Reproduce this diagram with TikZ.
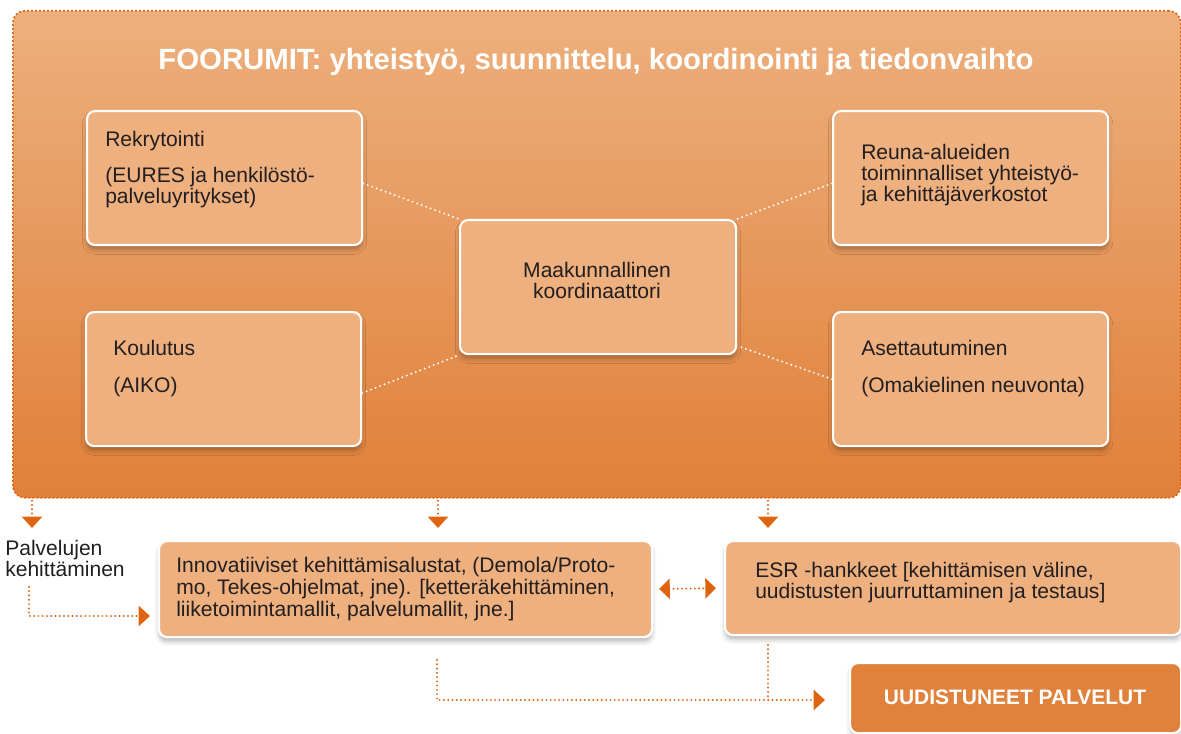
\documentclass[tikz,border=0pt]{standalone}
\usepackage{fontspec}
\setmainfont{Liberation Sans}
\usetikzlibrary{arrows.meta,shadows,shadows.blur,calc}
\definecolor{ink}{HTML}{231F20}
\definecolor{boxfill}{HTML}{EEB07E}
\definecolor{ortop}{HTML}{EDB07D}
\definecolor{orbot}{HTML}{E0803A}
\definecolor{arrowor}{HTML}{DF6410}
\definecolor{uudfill}{HTML}{E0823B}
\tikzset{
  forumbox/.style={draw=arrowor, line width=1.3pt, dash pattern=on 1.4pt off 1.6pt,
    top color=ortop, bottom color=orbot, rounded corners=9pt, anchor=north west, inner sep=0pt},
  lightbox/.style={draw=white, line width=1.6pt, fill=boxfill, rounded corners=6pt,
    anchor=north west, inner sep=0pt,
    blur shadow={shadow xshift=0pt, shadow yshift=-3.5pt, shadow blur radius=3.5pt, shadow opacity=28}},
  darkbox/.style={draw=white, line width=1.6pt, fill=uudfill, rounded corners=6pt,
    anchor=north west, inner sep=0pt,
    blur shadow={shadow xshift=0pt, shadow yshift=-3.5pt, shadow blur radius=3.5pt, shadow opacity=22}},
  txt/.style={anchor=base west, inner sep=0pt, text=ink, align=left,
    font=\fontsize{15.8}{15.75}\selectfont},
  wdots/.style={draw=white, line width=1.6pt, dash pattern=on 0pt off 3.6pt, line cap=round},
  odots/.style={draw=arrowor, line width=1.6pt, dash pattern=on 0pt off 3.2pt, line cap=round},
  tip/.style={-{Triangle[width=15pt,length=8.5pt]}},
  tips/.style={{Triangle[width=15pt,length=8pt]}-{Triangle[width=15pt,length=8pt]}},
}
\begin{document}
\begin{tikzpicture}[x=0.75pt,y=-0.75pt]
\useasboundingbox (0,0) rectangle (1181,734);

% forum box
\node[forumbox, minimum width=1168*0.75pt, minimum height=487*0.75pt] (forum) at (12,10) {};
\node[anchor=base, inner sep=0pt, text=white, font=\fontsize{22}{22}\selectfont\bfseries] (title) at (596,70)
  {FOORUMIT: yhteistyö, suunnittelu, koordinointi ja tiedonvaihto};

% inner boxes
\node[lightbox, minimum width=275*0.75pt, minimum height=134*0.75pt] (rek) at (86,110) {};
\node[lightbox, minimum width=275*0.75pt, minimum height=134*0.75pt] (reu) at (832,110) {};
\node[lightbox, minimum width=275*0.75pt, minimum height=134*0.75pt] (kou) at (85,311) {};
\node[lightbox, minimum width=275*0.75pt, minimum height=134*0.75pt] (ase) at (832,311) {};
\node[lightbox, minimum width=276*0.75pt, minimum height=134*0.75pt] (maa) at (459,219) {};

% (multi-line nodes: base anchor = baseline of last line)
\node[txt] (rekt1) at (105,147) {Rekrytointi};
\node[txt] (rekt2) at (105,204) {(EURES ja henkilöstö-\\palveluyritykset)};
\node[txt] (reut) at (861,202) {Reuna-alueiden\\toiminnalliset yhteistyö-\\ja kehittäjäverkostot};
\node[txt] (kout1) at (113,355) {Koulutus};
\node[txt] (kout2) at (113,392) {(AIKO)};
\node[txt] (aset1) at (861,355) {Asettautuminen};
\node[txt] (aset2) at (861,392) {(Omakielinen neuvonta)};
\node[txt, anchor=base, align=center] (maat) at (597,298) {Maakunnallinen\\koordinaattori};

% white dotted connectors
\draw[wdots] ([yshift=-4pt]rek.east) -- (maa.north west);
\draw[wdots] ([yshift=-4pt]reu.west) -- (maa.north east);
\draw[wdots] ([yshift=-10.5pt]kou.east) -- (maa.south west);
\draw[wdots] (ase.west) -- ([yshift=7pt]maa.south east);

% bottom row
\node[lightbox, minimum width=493*0.75pt, minimum height=96*0.75pt] (inn) at (158,540) {};
\node[lightbox, minimum width=456*0.75pt, minimum height=94*0.75pt] (esr) at (724,540) {};
\node[darkbox, minimum width=331*0.75pt, minimum height=70*0.75pt] (uud) at (849,662) {};

\node[txt, font=\fontsize{15.8}{16.5}\selectfont] (innt) at (176,616)
  {Innovatiiviset kehittämisalustat, (Demola/Proto-\\mo, Tekes-ohjelmat, jne). [ketteräkehittäminen,\\liiketoimintamallit, palvelumallit, jne.]};
\node[txt] (esrt) at (755,598) {ESR -hankkeet [kehittämisen väline,\\uudistusten juurruttaminen ja testaus]};
\node[anchor=base, inner sep=0pt, text=white, font=\fontsize{15.7}{15.7}\selectfont\bfseries] (uudt) at (1015,704) {UUDISTUNEET PALVELUT};
\node[txt] (pal) at (5,576) {Palvelujen\\kehittäminen};

% orange arrows
\coordinate (d1) at (32,528);
\coordinate (d2) at (438,528);
\coordinate (d3) at (768,528);
\draw[odots, tip] ($(forum.south west)+(20,2)$) -- (d1);
\draw[odots, tip] ($(forum.south west)+(426,2)$) -- (d2);
\draw[odots, tip] ($(forum.south west)+(756,2)$) -- (d3);

\coordinate (p0) at (29,587);
\coordinate (p1) at (150,616);
\draw[odots, tip] (p0) |- (p1);

\draw[odots, tips, shorten <=4.5pt, shorten >=6pt] (inn.east) -- (esr.west);

\coordinate (j1) at (437,660);
\coordinate (j2) at (768,645);
\coordinate (t1) at (825,700);
\draw[odots, tip] (j1) |- (t1);
\draw[odots] (j2) -- (j2 |- t1);
\end{tikzpicture}
\end{document}
